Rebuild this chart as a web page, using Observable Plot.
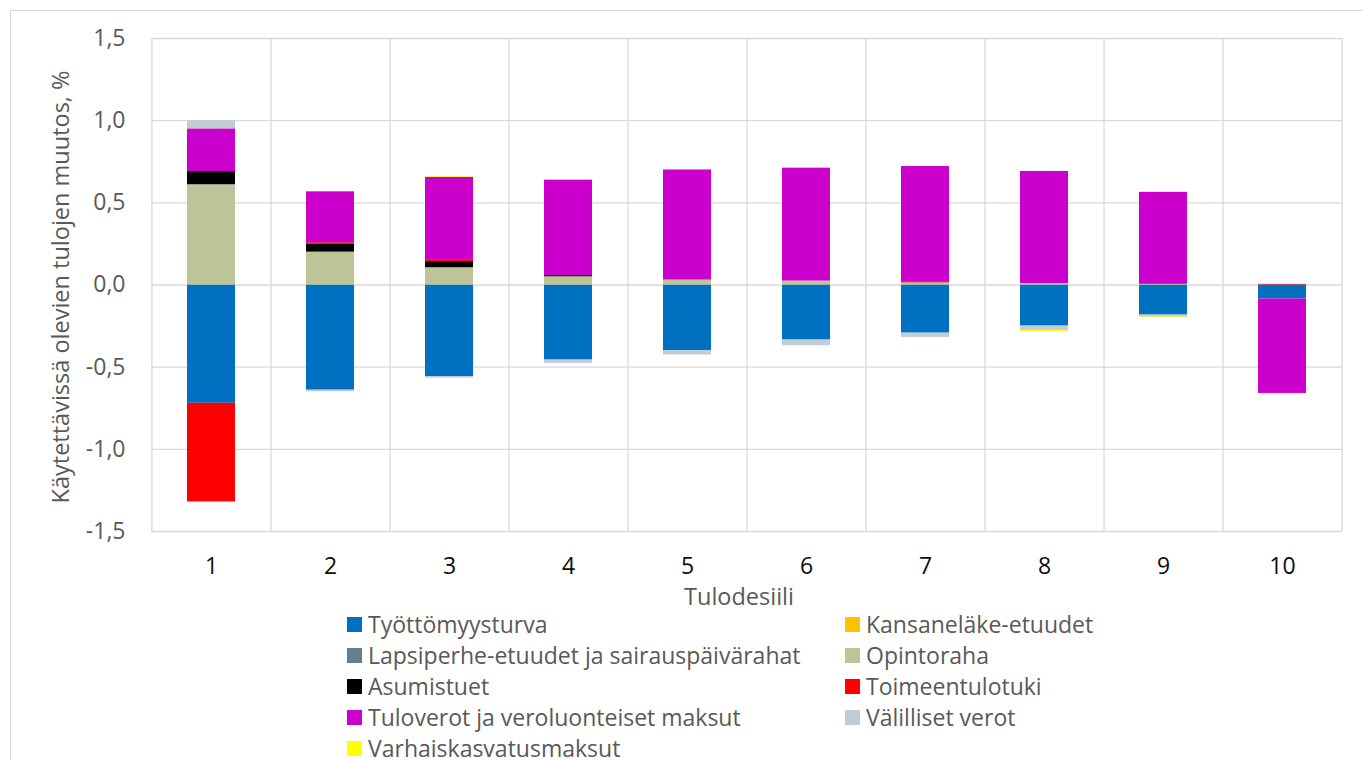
<!DOCTYPE html>
<html>
<head>
<meta charset="utf-8">
<script src="https://cdn.jsdelivr.net/npm/d3@7"></script>
<script src="https://cdn.jsdelivr.net/npm/@observablehq/plot@0.6"></script>
<style>
  body { margin: 0; background: #fff; }
  #chart { position: relative; width: 1363px; height: 760px; overflow: hidden; font-family: "Open Sans", Lato, sans-serif; }
  #border { position: absolute; left: 10px; top: 10px; width: 1400px; height: 800px; border: 1px solid #d9d9d9; box-sizing: border-box; }
  #plot { position: absolute; left: 0; top: 0; }
  #legend { position: absolute; left: 347px; top: 609px; display: grid; grid-template-columns: 498px 498px; grid-auto-rows: 31px; color: #595959; font-size: 23px; }
  .item { display: flex; align-items: center; white-space: nowrap; line-height: 31px; }
  .sw { width: 15px; height: 15px; margin-right: 6px; flex: none; }
</style>
</head>
<body>
<div id="chart">
  <div id="border"></div>
  <div id="plot"></div>
  <div id="legend"></div>
</div>
<script>
// Income deciles on the x axis
const deciles = ["1", "2", "3", "4", "5", "6", "7", "8", "9", "10"];

// Components of the change in disposable income (% points), in stacking order
const seriesNames = [
  "Työttömyysturva",
  "Kansaneläke-etuudet",
  "Lapsiperhe-etuudet ja sairauspäivärahat",
  "Opintoraha",
  "Asumistuet",
  "Toimeentulotuki",
  "Tuloverot ja veroluonteiset maksut",
  "Välilliset verot",
  "Varhaiskasvatusmaksut"
];
const seriesColors = ["#0070C0", "#FFC000", "#647D8F", "#BDC497", "#000000", "#FF0000", "#CC00CC", "#C2CCD6", "#FFFF00"];

// Values per decile 1..10
const tyottomyysturva   = [-0.72, -0.64, -0.557, -0.457, -0.40, -0.335, -0.293, -0.25, -0.183, -0.085];
const kansanelake       = [0, 0, 0, 0, 0, 0, 0, 0, 0, 0];
const lapsiperhe        = [0, 0, 0, 0, 0, 0, 0, 0, 0, 0];
const opintoraha        = [0.61, 0.20, 0.105, 0.05, 0.03, 0.024, 0.013, 0.008, 0.004, 0];
const asumistuet        = [0.08, 0.047, 0.037, 0.008, 0, 0, 0, 0, 0, 0];
const toimeentulotuki   = [-0.60, 0.01, 0.008, 0, 0, 0, 0.003, 0, 0, 0.003];
const tuloverot         = [0.26, 0.31, 0.505, 0.58, 0.67, 0.687, 0.705, 0.683, 0.56, -0.575];
const valillisetVerot   = [0.05, -0.01, -0.01, -0.02, -0.026, -0.035, -0.026, -0.026, -0.012, 0.003];
const varhaiskasvatus   = [0, 0, 0.004, 0, 0, 0, 0, -0.006, -0.004, -0.005];

const seriesValues = [tyottomyysturva, kansanelake, lapsiperhe, opintoraha, asumistuet,
                      toimeentulotuki, tuloverot, valillisetVerot, varhaiskasvatus];

// Axis ticks and titles
const yTicks = [-1.5, -1.0, -0.5, 0, 0.5, 1.0, 1.5];
const yTickLabels = ["-1,5", "-1,0", "-0,5", "0,0", "0,5", "1,0", "1,5"];
const yTitle = "Käytettävissä olevien tulojen muutos, %";
const xTitle = "Tulodesiili";

// Long table for the stacked bars
const rows = [];
seriesNames.forEach((s, i) => {
  deciles.forEach((d, j) => rows.push({decile: d, series: s, value: seriesValues[i][j]}));
});

const W = 1363, H = 612;
const mLeft = 151, mRight = 21, mTop = 38, mBottom = 81;
const step = (W - mLeft - mRight) / deciles.length;
const grid = "#d9d9d9";

const chart = Plot.plot({
  width: W,
  height: H,
  marginLeft: mLeft,
  marginRight: mRight,
  marginTop: mTop,
  marginBottom: mBottom,
  style: {fontFamily: "'Open Sans', Lato, sans-serif", fontSize: "23px", background: "transparent"},
  x: {domain: deciles, paddingInner: 0.595, paddingOuter: 0.2975, label: null},
  y: {domain: [-1.5, 1.5], label: null},
  color: {domain: seriesNames, range: seriesColors},
  marks: [
    Plot.gridY(yTicks, {stroke: grid, strokeOpacity: 1, strokeWidth: 1.3}),
    Plot.ruleX(deciles, {dx: step / 2, stroke: grid, strokeWidth: 1.3}),
    Plot.ruleX(deciles.slice(0, 1), {dx: -step / 2, stroke: grid, strokeWidth: 1.3}),
    Plot.barY(rows, {x: "decile", y: "value", fill: "series", order: seriesNames}),
    Plot.axisY({ticks: yTicks, tickFormat: (d) => yTickLabels[yTicks.indexOf(d)], tickSize: 0, tickPadding: 26, color: "#595959", label: null}),
    Plot.axisX({tickSize: 0, tickPadding: 26, color: "#0d0d0d", label: null}),
    Plot.text([yTitle], {frameAnchor: "left", textAnchor: "middle", lineAnchor: "middle", rotate: -90, dx: -90, dy: 2, fill: "#595959", fontSize: 23.5}),
    Plot.text([xTitle], {frameAnchor: "bottom", textAnchor: "middle", lineAnchor: "middle", dx: -8, dy: 66, fill: "#595959", fontSize: 23.5})
  ]
});
document.getElementById("plot").appendChild(chart);

// Legend in two columns below the plot
const legend = document.getElementById("legend");
seriesNames.forEach((s, i) => {
  const item = document.createElement("div");
  item.className = "item";
  const sw = document.createElement("span");
  sw.className = "sw";
  sw.style.background = seriesColors[i];
  const label = document.createElement("span");
  label.textContent = s;
  item.appendChild(sw);
  item.appendChild(label);
  legend.appendChild(item);
});
</script>
</body>
</html>
